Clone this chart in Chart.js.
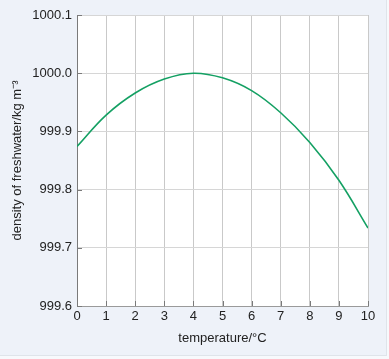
<!DOCTYPE html>
<html>
<head>
<meta charset="utf-8">
<script src="https://cdn.jsdelivr.net/npm/chart.js@4/dist/chart.umd.min.js"></script>
<style>
  html, body { margin: 0; padding: 0; background: #f7f9fc; }
  #wrap {
    position: relative; width: 386px; height: 355px;
    background: #eef2f9; border-right: 1px solid #dfe4ea; border-bottom: 1px solid #dfe4ea;
  }
  canvas { position: absolute; left: 0; top: 0; }
</style>
</head>
<body>
<div id="wrap"><canvas id="chart" width="389" height="359"></canvas></div>
<script>
const temperatures = [0, 1, 2, 3, 4, 5, 6, 7, 8, 9, 10];
const densities = [999.874, 999.928, 999.966, 999.990, 1000.000, 999.992, 999.970, 999.932, 999.881, 999.816, 999.734];
const yTicks = [999.6, 999.7, 999.8, 999.9, 1000.0, 1000.1];

const font = { family: "'Liberation Sans', Arial, Helvetica, sans-serif", size: 13 };
const textColor = "#222";

// tick marks drawn inside the plot area
const innerTicks = {
  id: "innerTicks",
  afterDraw(chart) {
    const { ctx, chartArea, scales } = chart;
    ctx.save();
    ctx.strokeStyle = "#7a7a7a";
    ctx.lineWidth = 1;
    ctx.beginPath();
    temperatures.forEach((t) => {
      const x = Math.round(scales.x.getPixelForValue(t)) + 0.5;
      ctx.moveTo(x, chartArea.bottom);
      ctx.lineTo(x, chartArea.bottom - 5);
    });
    yTicks.forEach((v) => {
      const y = Math.round(scales.y.getPixelForValue(v)) + 0.5;
      ctx.moveTo(chartArea.left, y);
      ctx.lineTo(chartArea.left + 5, y);
    });
    ctx.stroke();
    ctx.restore();
  },
};

const plotBackground = {
  id: "plotBackground",
  beforeDraw(chart) {
    const { ctx, chartArea } = chart;
    ctx.save();
    ctx.fillStyle = "#ffffff";
    ctx.fillRect(chartArea.left, chartArea.top, chartArea.right - chartArea.left, chartArea.bottom - chartArea.top);
    ctx.restore();
  },
};

new Chart(document.getElementById("chart"), {
  type: "line",
  data: {
    labels: temperatures,
    datasets: [
      {
        data: temperatures.map((t, i) => ({ x: t, y: densities[i] })),
        borderColor: "#14a063",
        borderWidth: 1.6,
        pointRadius: 0,
        fill: false,
        tension: 0.4,
      },
    ],
  },
  options: {
    responsive: false,
    animation: false,
    devicePixelRatio: 1,
    layout: { padding: { top: 15, right: 21, left: 0, bottom: 0 } },
    plugins: { legend: { display: false }, tooltip: { enabled: false } },
    scales: {
      x: {
        type: "linear",
        min: 0,
        max: 10,
        afterFit: (s) => { s.height = 53; },
        ticks: { stepSize: 1, color: textColor, font, padding: 3, maxRotation: 0 },
        grid: { color: "#c9c9c9", drawTicks: false },
        border: { color: "#9a9a9a" },
        title: {
          display: true,
          text: "temperature/°C",
          color: textColor,
          font,
          padding: { top: 0, bottom: 13 },
        },
      },
      y: {
        type: "linear",
        min: 999.6,
        max: 1000.1,
        afterFit: (s) => { s.width = 77; },
        afterBuildTicks: (s) => { s.ticks = yTicks.map((v) => ({ value: v })); },
        ticks: { color: textColor, font, padding: 5, callback: (v) => v.toFixed(1) },
        grid: { color: "#d6d6d6", drawTicks: false },
        border: { color: "#7a7a7a" },
        title: {
          display: true,
          text: "density of freshwater/kg m⁻³",
          color: textColor,
          font,
          padding: { top: 10, bottom: 0 },
        },
      },
    },
  },
  plugins: [plotBackground, innerTicks],
});
</script>
</body>
</html>
